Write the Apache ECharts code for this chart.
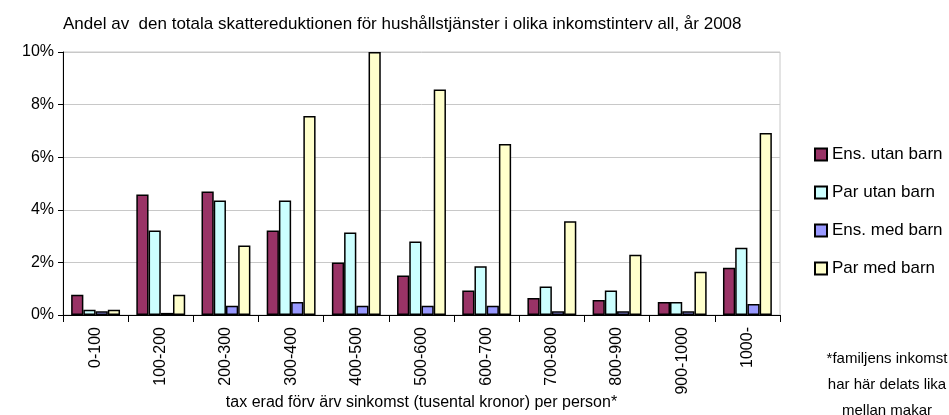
<!DOCTYPE html>
<html>
<head>
<meta charset="utf-8">
<script src="https://cdn.jsdelivr.net/npm/echarts@6/dist/echarts.min.js"></script>
<style>
  html, body { margin: 0; padding: 0; background: #fff; }
  #chart { width: 949px; height: 415px; }
</style>
</head>
<body>
<div id="chart"></div>
<script>
// inkomstintervall (tusental kronor)
const categories = ['0-100', '100-200', '200-300', '300-400', '400-500', '500-600',
  '600-700', '700-800', '800-900', '900-1000', '1000-'];
const seriesNames = ['Ens. utan barn', 'Par utan barn', 'Ens. med barn', 'Par med barn'];
// andel i procent
const ensUtanBarn = [0.77, 4.58, 4.70, 3.21, 2.00, 1.50, 0.93, 0.65, 0.57, 0.49, 1.80];
const parUtanBarn = [0.20, 3.21, 4.35, 4.35, 3.14, 2.79, 1.85, 1.08, 0.93, 0.49, 2.56];
const ensMedBarn = [0.14, 0.08, 0.35, 0.49, 0.35, 0.35, 0.35, 0.14, 0.14, 0.14, 0.42];
const parMedBarn = [0.20, 0.77, 2.64, 7.57, 10.0, 8.57, 6.50, 3.56, 2.29, 1.64, 6.92];
const yTicks = [0, 2, 4, 6, 8, 10];
const footnote = ['*familjens inkomst', 'har här delats lika', 'mellan makar'];

const colors = ['#993366', '#ccffff', '#9999ff', '#ffffcc'];
const values = [ensUtanBarn, parUtanBarn, ensMedBarn, parMedBarn];
const font = '"Liberation Sans", Arial, sans-serif';

const chart = echarts.init(document.getElementById('chart'));

chart.setOption({
  animation: false,
  textStyle: { fontFamily: font, color: '#000' },
  title: {
    text: 'Andel av  den totala skattereduktionen för hushållstjänster i olika inkomstinterv all, år 2008',
    left: 58,
    top: 11,
    textStyle: { fontSize: 17, fontWeight: 'normal', color: '#000', fontFamily: font },
  },
  grid: {
    left: 63, right: 169, top: 52, bottom: 100,
    outerBoundsMode: 'none',
    show: true, borderColor: '#c8c8c8', borderWidth: 1,
  },
  legend: {
    orient: 'vertical',
    left: 809,
    top: 141,
    itemWidth: 12,
    itemHeight: 12,
    itemGap: 21,
    icon: 'rect',
    data: seriesNames,
    textStyle: { fontSize: 17, color: '#000', fontFamily: font },
  },
  xAxis: {
    type: 'category',
    data: categories,
    name: 'tax erad förv ärv sinkomst (tusental kronor) per person*',
    nameLocation: 'middle',
    nameGap: 80,
    nameMoveOverlap: false,
    nameTextStyle: { fontSize: 16, color: '#000' },
    axisLine: { lineStyle: { color: '#000' } },
    axisTick: { show: true, length: 7, lineStyle: { color: '#000' } },
    axisLabel: { rotate: 90, fontSize: 16, color: '#000', margin: 12 },
  },
  yAxis: {
    type: 'value',
    min: 0,
    max: 10,
    interval: 2,
    axisLine: { show: true, lineStyle: { color: '#000' } },
    axisTick: { show: true, length: 5, lineStyle: { color: '#000' } },
    axisLabel: {
      fontSize: 16,
      color: '#000',
      margin: 9,
      formatter: (v) => (yTicks.includes(v) ? v + '%' : ''),
    },
    splitLine: { lineStyle: { color: '#c8c8c8' } },
  },
  series: seriesNames.map((name, i) => ({
    name: name,
    type: 'bar',
    data: values[i],
    barGap: '0%',
    barCategoryGap: '25%',
    itemStyle: { color: colors[i], borderColor: '#000', borderWidth: 1.5 },
  })),
  graphic: footnote.map((line, i) => ({
    type: 'text',
    x: 887,
    y: 359 + i * 26,
    style: { text: line, font: '15px ' + font, fill: '#000', align: 'center', verticalAlign: 'middle' },
  })),
});
</script>
</body>
</html>
